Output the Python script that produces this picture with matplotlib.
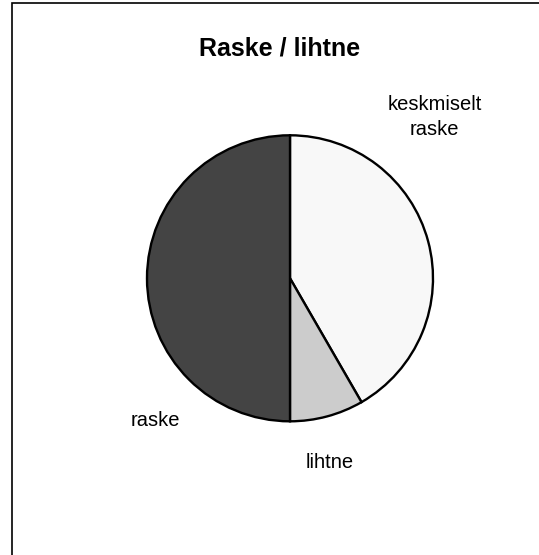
import matplotlib.pyplot as plt
from matplotlib.patches import Rectangle

# data
categories = ["keskmiselt\nraske", "lihtne", "raske"]
values = [10, 2, 12]
colors = ["#f8f8f8", "#cccccc", "#444444"]

W, H = 539, 555
fig = plt.figure(figsize=(W / 100, H / 100), dpi=100)
plt.rcParams['font.family'] = ['Liberation Sans', 'DejaVu Sans']

# pie centre (290, 278) px, radius 143 px
cx, cy, r = 290, 278.3, 143
ax = fig.add_axes([(cx - r) / W, (H - cy - r) / H, 2 * r / W, 2 * r / H])
ax.pie(values, colors=colors, startangle=90, counterclock=False,
       wedgeprops=dict(edgecolor="black", linewidth=1.7))
ax.set_xlim(-1, 1)
ax.set_ylim(-1, 1)
ax.set_aspect("equal")
ax.axis("off")


def px(x, y):
    # pixel position -> data coords of the pie axes
    return (x - cx) / r, (cy - y) / r


label_pos = [(434.5, 117, "center"), (330, 468, "baseline"), (155, 426, "baseline")]
for lab, (x, y, va) in zip(categories, label_pos):
    ax.text(*px(x, y), lab, ha="center", va=va, fontsize=14.5, linespacing=1.4,
            clip_on=False)

fig.text(280 / W, 1 - 55.7 / H, "Raske / lihtne", ha="center", va="baseline",
         fontsize=18, fontweight="bold")

# chart border (cut off at right and bottom)
fig.add_artist(Rectangle((12.5 / W, -0.2), 1.5, 0.2 + 1 - 2.5 / H, fill=False,
                         edgecolor="black", linewidth=1.2, transform=fig.transFigure,
                         clip_on=False))

fig.savefig("out.png", dpi=100)
